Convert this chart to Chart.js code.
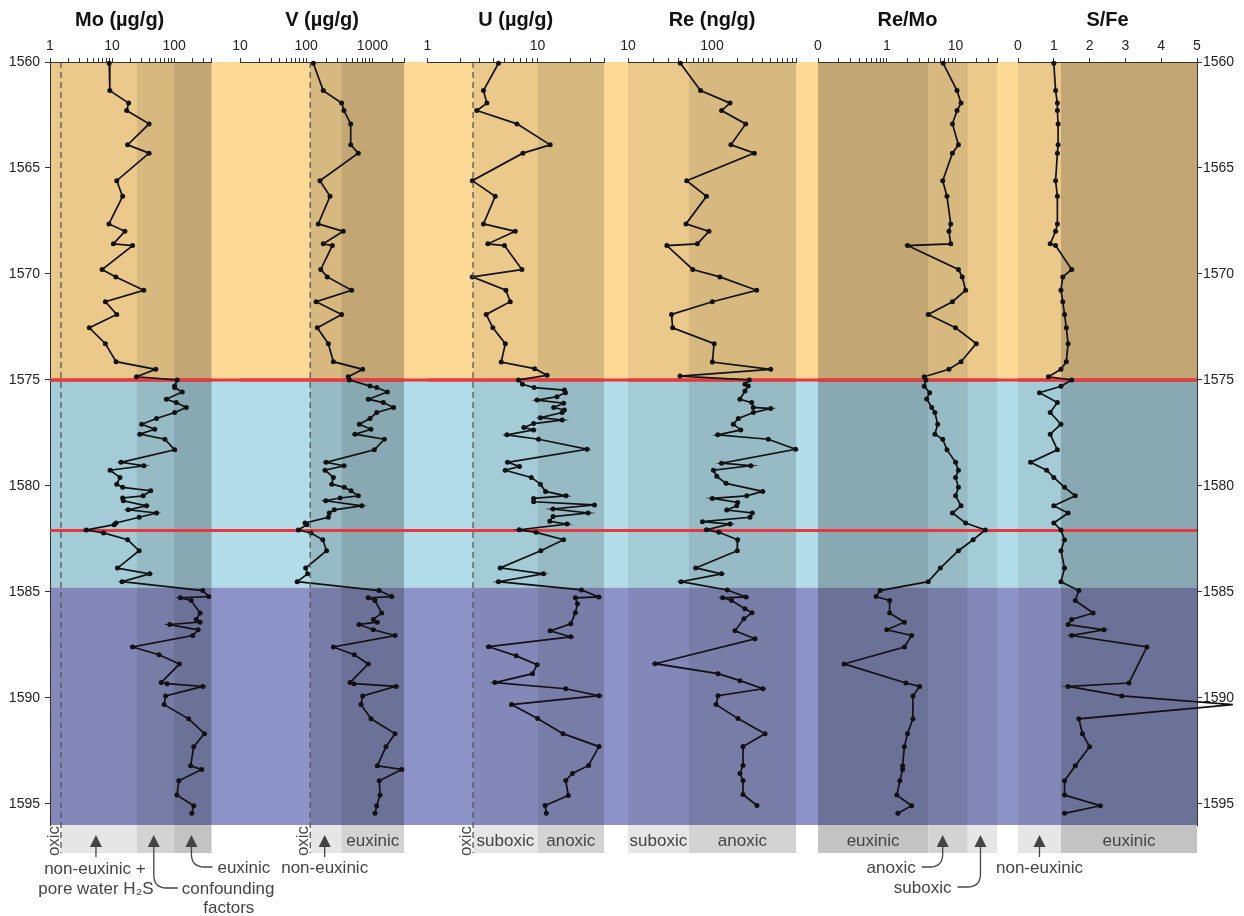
<!DOCTYPE html>
<html>
<head>
<meta charset="utf-8">
<script src="https://cdn.jsdelivr.net/npm/chart.js@4.4.0/dist/chart.umd.min.js"></script>
<style>
  html, body { margin: 0; padding: 0; background: #fff; }
  #wrap { position: relative; width: 1244px; height: 916px; }
  #wrap canvas { position: absolute; left: 0; top: 0; }
</style>
</head>
<body>
<div id="wrap">
  <canvas id="bg" width="1244" height="916"></canvas>
  <canvas id="pMo" width="1244" height="916"></canvas>
  <canvas id="pV" width="1244" height="916"></canvas>
  <canvas id="pU" width="1244" height="916"></canvas>
  <canvas id="pRe" width="1244" height="916"></canvas>
  <canvas id="pReMo" width="1244" height="916"></canvas>
  <canvas id="pSFe" width="1244" height="916"></canvas>
</div>
<script>
// depth axis
const depthTicks = [1560, 1565, 1570, 1575, 1580, 1585, 1590, 1595];
const intervalTops = [1560, 1575, 1584.8];      // orange, blue, purple intervals
const intervalColors = ['#fdd996', '#b1dce8', '#8d93c6'];
const redLines = [1575, 1582.1];

// Mo (ug/g), V (ug/g) share sample depths
const moDepth = [1560.06,1561.35,1561.94,1562.29,1562.92,1563.91,1564.30,1565.60,1566.34,1567.64,1567.99,1568.58,1568.66,1569.79,1570.14,1570.77,1571.31,1571.91,1572.54,
  1573.29,1574.14,1574.50,1574.85,1575.00,
  1575.29,1575.36,1575.57,1575.91,1576.07,1576.30,1576.54,1576.82,1577.09,1577.33,1577.56,1577.80,1578.30,
  1578.89,1579.05,1579.26,1579.60,1579.92,1580.07,1580.23,1580.47,1580.57,1580.70,1580.94,1581.13,1581.28,1581.48,1581.75,1581.83,
  1582.08,1582.22,1582.54,1583.06,1583.88,1584.15,1584.52,
  1584.94,1585.22,1585.28,1585.41,1586.00,1586.30,1586.43,1586.54,1586.79,1587.06,1587.60,1587.97,1588.40,1589.28,1589.33,1589.46,1589.91,1590.32,1590.99,1591.69,1592.31,1593.21,1593.38,1593.91,1594.59,1595.09,1595.45];
const moVal = [9,9.2,18.5,17.2,39.5,17.8,39.5,11.9,14.8,8.9,16.1,10.5,21.4,6.9,11.5,32.5,7.8,11.9,4.3,
  7.8,11.6,50.6,24.8,112,
  102,102,135,75,108,157,102,52,30,48.7,28,71,102,
  13.9,32.5,9.3,13.4,11.9,14.8,42,31.7,14.8,15.2,35.9,18.2,52,27.3,11.6,10.8,
  3.84,7.3,17.8,27.3,12.2,40.5,14.5,
  289,361,126,188,262,227,262,85,244,200,21.4,57,122,62,77,289,73,69,171,308,207,184,278,119,111,207,193];
const vVal = [128,181,343,372,470,470,612,161,229,152,363,181,248,166,208,486,141,343,147,
  216,257,713,432,448,
  920,1161,1680,866,1462,2090,1161,920,634,950,545,1514,1070,
  199,372,192,257,243,376,475,612,325,197,690,265,223,216,96,102,
  76,118,178,203,98,105,73,
  1259,1954,866,1094,1380,1033,1186,628,1033,2194,257,533,866,459,527,2270,713,673,953,2194,1603,1186,2773,1270,1303,1161,1094];

// U (ug/g)
const uDepth = [1560.06,1561.35,1561.94,1562.29,1562.92,1563.91,1564.30,1565.60,1566.34,1567.64,1567.99,1568.58,1568.66,1569.79,1570.14,1570.77,1571.31,1571.91,1572.54,
  1573.29,1574.16,1574.47,1574.78,1575.00,1575.21,1575.36,1575.48,1575.60,1575.79,1575.95,1576.10,1576.30,1576.42,1576.54,1576.78,1576.89,1577.06,1577.25,1577.36,
  1577.59,1577.80,1578.27,1578.89,1579.08,1579.26,1579.60,1579.92,1580.26,1580.47,1580.59,1580.75,1580.90,1581.09,1581.28,1581.45,1581.67,1581.80,1582.07,1582.19,
  1582.54,1583.06,1583.87,1584.15,1584.52,1584.91,1585.24,1585.28,
  1585.56,1585.99,1586.51,1586.84,1587.12,1587.59,1588.02,1588.44,1588.86,1589.28,1589.57,1589.90,1590.32,1590.98,1591.69,1592.30,1593.19,1593.57,1593.90,1594.61,1595.08,1595.45];
const uVal = [4.42,3.23,3.47,2.81,6.5,13.0,7.36,2.56,4.13,3.23,6.27,3.54,5.01,7.21,2.56,5.16,5.65,3.42,3.93,
  5.1,4.68,9.4,12.2,6.7,7.3,9.3,17.5,17.9,15.0,9.9,17.2,14.0,17.5,16.7,10.6,16.7,9.2,7.5,9.2,
  5.27,10.2,28.1,5.34,6.86,5.09,8.77,10.6,11.8,18.1,9.2,9.2,32.8,13.8,28.7,13.8,12.9,18.5,6.82,9.7,
  17.2,10.7,4.58,11.3,4.42,25,35.9,22,
  23,22,20,13,20,3.6,6.4,9.9,9,4.1,18,36,5.8,10,17,36,29,20.7,18,19,11.7,12];

// Re (ng/g)
const reDepth = [1560.06,1561.35,1561.94,1562.29,1562.92,1563.91,1564.30,1565.60,1566.34,1567.64,1567.99,1568.58,1568.66,1569.79,1570.14,1570.77,1571.31,1571.91,1572.54,
  1573.29,1574.16,1574.50,1574.82,1575.00,1575.21,1575.29,1575.52,1575.91,1576.07,1576.30,1576.35,1576.54,1576.82,1577.09,1577.36,1577.59,1577.80,1578.27,1578.93,
  1579.05,1579.26,1579.55,1579.88,1580.26,1580.47,1580.59,1580.78,1580.94,1581.14,1581.28,1581.48,1581.69,1581.80,1582.07,1582.19,1582.54,1583.06,1583.87,1584.15,
  1584.52,1584.91,1585.24,1585.28,1585.41,
  1585.80,1585.99,1586.27,1586.84,1587.21,1588.39,1588.86,1589.19,1589.57,1589.90,1590.32,1590.98,1591.69,1592.30,1593.19,1593.57,1593.90,1594.56,1595.08];
const reVal = [42,73,164,130,252,168,319,50,86,49,92,67,29,59,124,340,101,33,34,
  106,101,500,41.6,278,247,270,247,215,297,310,500,310,206,179,220,117,468,990,130,
  290,104,114,147,401,259,101,202,197,150,302,283,77,164,86,121,202,200,64,130,
  42.8,152,254,134,171,
  247,299,240,188,325,21,118,215,405,118,112,204,428,234,234,215,234,234,343];

// Re/Mo
const rmDepth = [1560.06,1561.35,1561.94,1562.29,1562.92,1563.91,1564.30,1565.60,1566.34,1567.64,1567.99,1568.58,1568.66,1569.79,1570.14,1570.77,1571.31,1571.91,1572.54,1573.29,1574.14,1574.50,1574.85,1575.00,
  1575.30,1575.60,1575.90,1576.30,1576.54,1577.09,1577.56,1577.80,1578.30,1578.89,1579.26,1579.60,1580.07,1580.47,1580.94,1581.28,1581.75,1582.08,1582.54,1583.06,1583.88,1584.52,
  1584.94,1585.22,1585.41,1586.00,1586.43,1586.79,1587.06,1587.60,1588.40,1589.30,1589.46,1589.91,1590.99,1591.69,1592.31,1593.21,1593.38,1593.91,1594.59,1595.09,1595.45];
const rmVal = [6.6,10.5,12,10.5,9,11,9,6.5,7.5,8.5,8,8.5,2,11,12.5,14,9,4,10,20,12,8,3.5,3.7,
  3.5,4.2,3.8,4.5,5,5.5,5,6.5,7.5,10,11,10,11,10,12,9,14,27,18,11,6,4,
  0.8,0.7,1.1,1.1,1.8,1.0,2.3,1.8,0.24,1.9,3.0,2.4,2.4,2.0,1.8,1.7,1.7,1.55,1.4,2.3,1.45];

// S/Fe
const sfDepth = [1560.06,1561.35,1561.94,1562.29,1562.92,1563.91,1564.30,1565.60,1566.34,1567.64,1567.99,1568.58,1568.66,1569.79,1570.14,1570.77,1571.31,1571.91,1572.54,1573.29,1574.14,1574.50,1574.85,1575.00,
  1575.30,1575.60,1576.07,1576.54,1577.09,1577.56,1578.30,1578.89,1579.26,1579.60,1580.07,1580.47,1580.94,1581.28,1581.75,1582.08,1582.54,1583.06,1583.88,1584.52,
  1584.94,1585.41,1586.00,1586.30,1586.54,1586.79,1587.06,1587.60,1589.30,1589.46,1589.91,1590.32,1590.99,1591.69,1592.31,1593.21,1593.91,1594.59,1595.09,1595.45];
const sfVal = [1.0,1.05,1.1,1.1,1.12,1.12,1.1,1.05,1.1,1.1,1.05,0.9,1.05,1.5,1.25,1.2,1.25,1.3,1.35,1.4,1.35,1.2,0.85,1.5,
  1.2,0.6,1.1,0.9,1.2,0.9,1.1,0.35,0.8,1.0,1.3,1.6,1.0,1.4,1.0,1.2,1.3,1.2,1.3,1.2,
  1.7,1.6,2.1,1.5,1.4,2.4,1.5,3.6,3.1,1.4,2.9,6.0,1.7,1.8,2.0,1.6,1.3,1.3,2.3,1.3];

Chart.defaults.font.family = '"Liberation Sans", Arial, Helvetica, sans-serif';
Chart.defaults.color = '#222';

const SHADE = { light: 'rgba(0,0,0,0.07)', mid: 'rgba(0,0,0,0.15)', dark: 'rgba(0,0,0,0.23)' };
const BOX = { light: '#e6e6e6', mid: '#d3d3d3', dark: '#c3c3c3' };
const INK = '#444';
const RED = '#e8383d';
const BOX_TOP = 825, BOX_BOT = 853;

function logTicks(min, max) {
  const out = [];
  for (let e = Math.floor(Math.log10(min)); e <= Math.ceil(Math.log10(max)); e++) {
    for (let k = 1; k < 10; k++) {
      const v = Number((k * Math.pow(10, e)).toPrecision(3));
      if (v >= min * 0.999 && v <= max * 1.001) out.push(v);
    }
  }
  return out;
}

function drawRed(ctx, y, left, right) {
  ctx.save();
  ctx.strokeStyle = RED;
  ctx.lineWidth = 3;
  redLines.forEach(d => {
    const py = y.getPixelForValue(d);
    ctx.beginPath(); ctx.moveTo(left, py); ctx.lineTo(right, py); ctx.stroke();
  });
  ctx.restore();
}

// background intervals + depth axes
const bgPlugin = {
  id: 'bgIntervals',
  beforeDraw(chart) {
    const { ctx, chartArea: a, scales: { y } } = chart;
    ctx.save();
    intervalTops.forEach((top, i) => {
      const bot = i + 1 < intervalTops.length ? intervalTops[i + 1] : y.max;
      const y0 = y.getPixelForValue(top), y1 = y.getPixelForValue(bot);
      ctx.fillStyle = intervalColors[i];
      ctx.fillRect(a.left, y0, a.right - a.left, y1 - y0);
    });
    ctx.restore();
    drawRed(ctx, y, a.left, a.right);
  }
};

const depthAxis = (pos, width, pad) => ({
  type: 'linear', position: pos, reverse: true, min: 1560, max: 1596,
  afterBuildTicks: s => { s.ticks = depthTicks.map(v => ({ value: v })); },
  afterFit: s => { s.width = width; },
  ticks: { padding: pad, color: '#222', font: { size: 14 }, callback: v => String(v) },
  grid: { drawOnChartArea: false, tickLength: 5, color: '#333' },
  border: { color: '#333', width: 1 }
});

new Chart(document.getElementById('bg'), {
  type: 'scatter',
  data: { datasets: [] },
  options: {
    responsive: false, animation: false, events: [],
    layout: { padding: { top: 62, bottom: 91, left: 0, right: 0 } },
    scales: {
      x: { display: false, min: 0, max: 1 },
      y: depthAxis('left', 50, 5),
      y2: Object.assign(depthAxis('right', 47, 1), { axis: 'y' })
    },
    plugins: { legend: { display: false }, tooltip: { enabled: false } }
  },
  plugins: [bgPlugin]
});

function drawArrow(ctx, x, a) {
  ctx.save();
  ctx.fillStyle = INK; ctx.strokeStyle = INK; ctx.lineWidth = 1.3;
  ctx.beginPath();
  ctx.moveTo(x, 835); ctx.lineTo(x - 6, 847); ctx.lineTo(x + 6, 847); ctx.closePath();
  ctx.fill();
  ctx.beginPath();
  ctx.moveTo(x, 846);
  if (a.kind === 'straight') {
    ctx.lineTo(x, 857);
  } else {
    const r = 13;
    ctx.lineTo(x, a.yEnd - r);
    ctx.quadraticCurveTo(x, a.yEnd, x + a.dir * r, a.yEnd);
    ctx.lineTo(x + a.dir * a.len, a.yEnd);
  }
  ctx.stroke();
  ctx.font = '17px "Liberation Sans", Arial, sans-serif';
  ctx.textBaseline = 'middle';
  a.texts.forEach(t => {
    ctx.textAlign = t.align || 'center';
    ctx.fillText(t.t, x + t.dx, t.y);
  });
  ctx.restore();
}

function panelPlugin(p) {
  return {
    id: 'panelZones',
    beforeDraw(chart) {
      const { ctx, chartArea: a, scales: { x, y } } = chart;
      ctx.save();
      p.zones.forEach(z => {
        const x0 = x.getPixelForValue(z[0]), x1 = x.getPixelForValue(z[1]);
        ctx.fillStyle = SHADE[z[2]];
        ctx.fillRect(x0, a.top, x1 - x0, a.bottom - a.top);
      });
      ctx.restore();
      drawRed(ctx, y, a.left, a.right);
    },
    afterDraw(chart) {
      const { ctx, chartArea: a, scales: { x } } = chart;
      ctx.save();
      // classification boxes under the panel
      p.boxes.forEach(b => {
        const x0 = x.getPixelForValue(b[0]), x1 = x.getPixelForValue(b[1]);
        ctx.fillStyle = BOX[b[2]];
        ctx.fillRect(x0, BOX_TOP, x1 - x0, BOX_BOT - BOX_TOP);
        if (b[3]) {
          ctx.fillStyle = INK;
          ctx.font = '17px "Liberation Sans", Arial, sans-serif';
          ctx.textAlign = 'center'; ctx.textBaseline = 'middle';
          ctx.fillText(b[3], (x0 + x1) / 2, 841);
        }
      });
      // oxic threshold
      if (p.oxic) {
        const px = x.getPixelForValue(p.oxic);
        ctx.strokeStyle = '#555'; ctx.lineWidth = 1.3; ctx.setLineDash([6, 4]);
        ctx.beginPath(); ctx.moveTo(px, a.top); ctx.lineTo(px, BOX_BOT); ctx.stroke();
        ctx.setLineDash([]);
        ctx.translate(px - 7, 841);
        ctx.rotate(-Math.PI / 2);
        ctx.fillStyle = INK;
        ctx.font = '17px "Liberation Sans", Arial, sans-serif';
        ctx.textAlign = 'center'; ctx.textBaseline = 'middle';
        ctx.fillText('oxic', 0, 0);
      }
      ctx.restore();
      p.arrows.forEach(ar => drawArrow(ctx, x.getPixelForValue(ar.v), ar));
    }
  };
}

function panel(id, p) {
  const pts = p.depth.map((d, i) => ({ x: p.val[i], y: d }));
  new Chart(document.getElementById(id), {
    type: 'scatter',
    data: {
      datasets: [{
        data: pts, showLine: true, borderColor: '#111', borderWidth: 1.7,
        pointRadius: 2.5, pointBackgroundColor: '#111', pointBorderWidth: 0, clip: false
      }]
    },
    options: {
      responsive: false, animation: false, events: [],
      layout: { padding: { left: p.left, right: 1244 - p.right, top: 0, bottom: 91 } },
      scales: {
        x: {
          type: p.log ? 'logarithmic' : 'linear',
          position: 'top', min: p.min, max: p.max,
          afterBuildTicks: s => { s.ticks = p.ticks.map(v => ({ value: v })); },
          afterFit: s => { s.height = 62; },
          ticks: {
            autoSkip: false, maxRotation: 0, minRotation: 0, padding: 3,
            color: '#222', font: { size: 14 },
            callback: v => (p.labels[v] !== undefined ? p.labels[v] : '')
          },
          grid: { drawOnChartArea: false, tickLength: 4, color: '#333', lineWidth: 1 },
          border: { color: '#333', width: 1 },
          title: {
            display: true, text: p.title, color: '#111',
            font: { size: 20, weight: 'bold' }, padding: { top: 8, bottom: 0 }
          }
        },
        y: { display: false, reverse: true, min: 1560, max: 1596 }
      },
      plugins: { legend: { display: false }, tooltip: { enabled: false } }
    },
    plugins: [panelPlugin(p)]
  });
}

panel('pMo', {
  title: 'Mo (µg/g)\u00a0\u00a0\u00a0\u00a0', depth: moDepth, val: moVal,
  left: 50, right: 211.5, log: true, min: 1, max: 400,
  ticks: logTicks(1, 400), labels: { 1: '1', 10: '10', 100: '100' },
  zones: [[1, 25, 'light'], [25, 100, 'mid'], [100, 400, 'dark']],
  boxes: [[1.5, 25, 'light'], [25, 100, 'mid'], [100, 400, 'dark']],
  oxic: 1.5,
  arrows: [
    { v: 5.5, kind: 'straight', texts: [{ t: 'non-euxinic +', dx: -1, y: 869 }, { t: 'pore water H₂S', dx: 0, y: 889 }] },
    { v: 47, kind: 'curve', dir: 1, yEnd: 888, len: 24, texts: [{ t: 'confounding', dx: 28, y: 889, align: 'left' }, { t: 'factors', dx: 75, y: 908 }] },
    { v: 190, kind: 'curve', dir: 1, yEnd: 867, len: 21, texts: [{ t: 'euxinic', dx: 26, y: 868, align: 'left' }] }
  ]
});

panel('pV', {
  title: 'V (µg/g)', depth: moDepth, val: vVal,
  left: 240, right: 404, log: true, min: 10, max: 3000,
  ticks: logTicks(10, 3000), labels: { 10: '10', 100: '100', 1000: '1000' },
  zones: [[115, 340, 'mid'], [340, 3000, 'dark']],
  boxes: [[115, 340, 'light'], [340, 3000, 'mid', 'euxinic']],
  oxic: 115,
  arrows: [
    { v: 190, kind: 'straight', texts: [{ t: 'non-euxinic', dx: 0, y: 868 }] }
  ]
});

panel('pU', {
  title: 'U (µg/g)', depth: uDepth, val: uVal,
  left: 427.3, right: 604, log: true, min: 1, max: 40,
  ticks: logTicks(1, 40), labels: { 1: '1', 10: '10' },
  zones: [[2.6, 10, 'light'], [10, 40, 'mid']],
  boxes: [[2.6, 10, 'light', 'suboxic'], [10, 40, 'mid', 'anoxic']],
  oxic: 2.6,
  arrows: []
});

panel('pRe', {
  title: 'Re (ng/g)', depth: reDepth, val: reVal,
  left: 628, right: 796, log: true, min: 10, max: 1000,
  ticks: logTicks(10, 1000), labels: { 10: '10', 100: '100' },
  zones: [[10, 53, 'light'], [53, 1000, 'mid']],
  boxes: [[10, 53, 'light', 'suboxic'], [53, 1000, 'mid', 'anoxic']],
  oxic: null,
  arrows: []
});

panel('pReMo', {
  title: 'Re/Mo', depth: rmDepth, val: rmVal,
  left: 818, right: 997, log: true, min: 0.1, max: 40,
  ticks: logTicks(0.1, 40), labels: { '0.1': '0', 1: '1', 10: '10' },
  zones: [[0.1, 4, 'dark'], [4, 15, 'mid'], [15, 40, 'light']],
  boxes: [[0.1, 4, 'dark', 'euxinic'], [4, 15, 'mid'], [15, 40, 'light']],
  oxic: null,
  arrows: [
    { v: 6.5, kind: 'curve', dir: -1, yEnd: 867, len: 21, texts: [{ t: 'anoxic', dx: -27, y: 868, align: 'right' }] },
    { v: 23, kind: 'curve', dir: -1, yEnd: 887, len: 23, texts: [{ t: 'suboxic', dx: -29, y: 888, align: 'right' }] }
  ]
});

panel('pSFe', {
  title: 'S/Fe', depth: sfDepth, val: sfVal,
  left: 1018, right: 1197, log: false, min: 0, max: 5,
  ticks: [0, 1, 2, 3, 4, 5], labels: { 0: '0', 1: '1', 2: '2', 3: '3', 4: '4', 5: '5' },
  zones: [[0, 1.2, 'light'], [1.2, 5, 'dark']],
  boxes: [[0, 1.2, 'light'], [1.2, 5, 'dark', 'euxinic']],
  oxic: null,
  arrows: [
    { v: 0.6, kind: 'straight', texts: [{ t: 'non-euxinic', dx: 0, y: 868 }] }
  ]
});
</script>
</body>
</html>
